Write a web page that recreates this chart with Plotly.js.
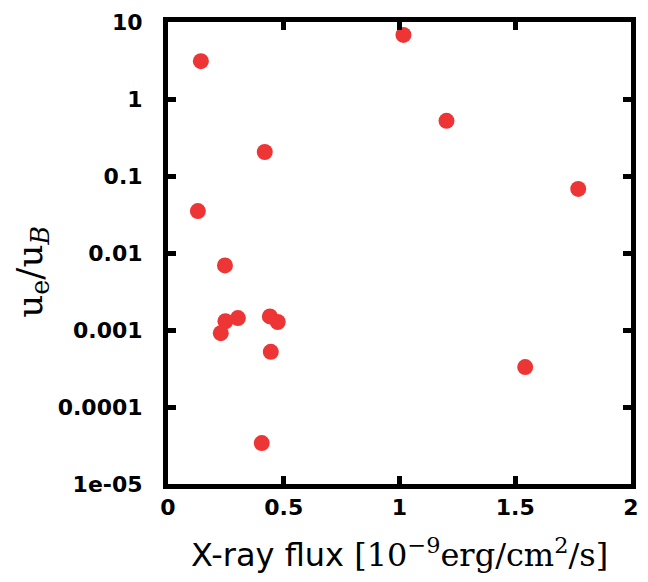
<!DOCTYPE html>
<html>
<head>
<meta charset="utf-8">
<script src="https://cdn.plot.ly/plotly-3.0.1.min.js"></script>
<style>html,body{margin:0;padding:0;background:#fff;}#chart{width:648px;height:582px;}</style>
</head>
<body>
<div id="chart"></div>
<script>
const xFlux = [0.142, 1.017, 1.203, 0.418, 1.772, 0.129, 0.246, 0.228, 0.248, 0.302, 0.44, 0.474, 0.444, 1.543, 0.405];
const ratio = [3.1, 6.8, 0.52, 0.205, 0.068, 0.035, 0.0069, 0.00091, 0.0013, 0.00143, 0.0015, 0.00127, 0.00052, 0.00033, 0.000034];
const xTickVals = [0, 0.5, 1, 1.5, 2];
const xTickText = ['0', '0.5', '1', '1.5', '2'];
const yTickVals = [10, 1, 0.1, 0.01, 0.001, 0.0001, 0.00001];
const yTickText = ['10', '1', '0.1', '0.01', '0.001', '0.0001', '1e-05'];

const serif = "'DejaVu Serif', 'Liberation Serif', serif";
const tickFont = {family: "'DejaVu Sans', sans-serif", size: 22, color: '#000', weight: 'bold'};

const trace = {
  x: xFlux, y: ratio, type: 'scatter', mode: 'markers',
  marker: {color: '#ee3535', size: 16, line: {width: 0}},
  hoverinfo: 'skip'
};

const layout = {
  width: 648, height: 582,
  margin: {l: 168, r: 17, t: 22, b: 98},
  paper_bgcolor: '#fff', plot_bgcolor: '#fff',
  showlegend: false,
  xaxis: {
    range: [0, 2], tickmode: 'array', tickvals: xTickVals, ticktext: xTickText,
    ticks: 'inside', ticklen: 8, tickwidth: 5, tickcolor: '#000',
    showline: true, linewidth: 5, linecolor: '#000', mirror: 'ticks',
    showgrid: false, zeroline: false, tickfont: tickFont, ticklabelstandoff: 0,
    title: {text: "X-ray flux <span style='font-family:DejaVu Serif'>[10<sup>−9</sup>erg/cm<sup>2</sup>/s]</span>",
            font: {family: "'DejaVu Sans', sans-serif", size: 32, color: '#000'}, standoff: 26}
  },
  yaxis: {
    type: 'log', range: [-5, 1], tickmode: 'array', tickvals: yTickVals, ticktext: yTickText,
    ticks: 'inside', ticklen: 8, tickwidth: 5, tickcolor: '#000',
    showline: true, linewidth: 5, linecolor: '#000', mirror: 'ticks',
    showgrid: false, zeroline: false, tickfont: tickFont, ticklabelstandoff: 16
  },
  annotations: [{
    text: "u<sub>e</sub>/u<sub><i>B</i></sub>", textangle: -90,
    xref: 'paper', yref: 'paper', x: -0.293, y: 0.46, xanchor: 'center', yanchor: 'middle',
    showarrow: false, font: {family: serif, size: 36, color: '#000'}
  }]
};

Plotly.newPlot('chart', [trace], layout, {staticPlot: true, displayModeBar: false});
</script>
</body>
</html>
